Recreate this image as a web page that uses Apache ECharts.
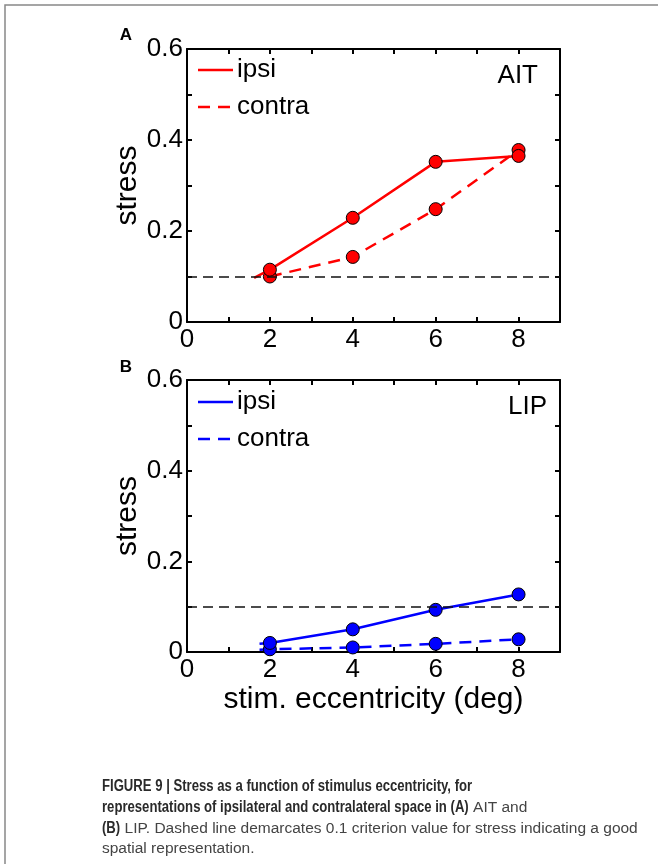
<!DOCTYPE html>
<html>
<head>
<meta charset="utf-8">
<script src="https://cdn.jsdelivr.net/npm/echarts@6/dist/echarts.min.js"></script>
<style>
  html, body { margin: 0; padding: 0; background: #fff; }
  #chart { width: 658px; height: 864px; }
</style>
</head>
<body>
<div id="chart"></div>
<script>
// stimulus eccentricity (deg)
const ecc = [2, 4, 6, 8]
const aitIpsi = [0.115, 0.229, 0.352, 0.365]
const aitContra = [0.100, 0.143, 0.248, 0.378]
const lipIpsi = [0.020, 0.050, 0.093, 0.127]
const lipContra = [0.006, 0.010, 0.018, 0.028]
// unmarked start of each trace, just left of 2 deg
const aitIpsiStart = [1.62, 0.097]
const lipIpsiStart = [1.75, 0.018]
const lipContraStart = [1.75, 0.005]
const criterion = 0.1

const xTicks = [0, 2, 4, 6, 8]
const yTicks = [0, 0.2, 0.4, 0.6]

// caption: pieces of [text, bold] per line
const caption = [
  [['FIGURE 9 | Stress as a function of stimulus eccentricity, for', true]],
  [['representations of ipsilateral and contralateral space in (A)', true], [' AIT and', false]],
  [['(B)', true], [' LIP. Dashed line demarcates 0.1 criterion value for stress indicating a good', false]],
  [['spatial representation.', false]],
]

const FONT = 'Liberation Sans, Arial, Helvetica, sans-serif'
const RED = '#ff0000'
const BLUE = '#0000ff'

function pts(xs, ys, start) {
  const data = xs.map((x, i) => [x, ys[i]])
  if (start) data.unshift({ value: start, symbol: 'none' })
  return data
}

const chart = echarts.init(document.getElementById('chart'))

const grids = [
  { left: 187, top: 49, width: 373, height: 273 },
  { left: 187, top: 380, width: 373, height: 272 },
]

function xAxisFor(gridIndex, top, name) {
  return {
    type: 'value', gridIndex, position: top ? 'top' : 'bottom',
    min: 0, max: 9, interval: 1,
    name: top ? '' : name, nameLocation: 'middle', nameGap: 33,
    nameTextStyle: { fontFamily: FONT, fontSize: 30, color: '#000' },
    axisLine: { show: true, onZero: false, lineStyle: { color: '#000', width: 2 } },
    axisTick: { show: true, inside: true, length: 5, lineStyle: { color: '#000', width: 2 } },
    axisLabel: {
      show: !top, margin: 5, fontFamily: FONT, fontSize: 26, color: '#000',
      formatter: (v) => (xTicks.includes(v) ? String(v) : ''),
    },
    splitLine: { show: false },
  }
}

function yAxisFor(gridIndex, right) {
  return {
    type: 'value', gridIndex, position: right ? 'right' : 'left',
    min: 0, max: 0.6, interval: 0.1,
    name: right ? '' : 'stress', nameLocation: 'middle', nameGap: 44,
    nameMoveOverlap: false,
    nameTextStyle: { fontFamily: FONT, fontSize: 30, color: '#000' },
    axisLine: { show: true, onZero: false, lineStyle: { color: '#000', width: 2 } },
    axisTick: { show: true, inside: true, length: 5, lineStyle: { color: '#000', width: 2 } },
    axisLabel: {
      show: !right, margin: 4, fontFamily: FONT, fontSize: 26, color: '#000',
      formatter: (v) => {
        const r = Math.round(v * 10) / 10
        if (!yTicks.some((t) => Math.abs(t - r) < 1e-6)) return ''
        return r === 0 ? '0' : r.toFixed(1)
      },
    },
    splitLine: { show: false },
  }
}

function lineSeries(axis, data, color, dashed, withCriterion) {
  const s = {
    type: 'line', xAxisIndex: axis, yAxisIndex: axis, data,
    symbol: 'circle', symbolSize: 13, showSymbol: true,
    lineStyle: { color, width: 2.5, type: dashed ? [12, 8] : 'solid' },
    itemStyle: { color, borderColor: '#000', borderWidth: 1 },
    z: dashed ? 3 : 4,
    animation: false,
  }
  if (withCriterion) {
    s.markLine = {
      silent: true, symbol: 'none', label: { show: false },
      lineStyle: { color: '#111', width: 1.5, type: [10, 6] },
      data: [{ yAxis: criterion }],
    }
  }
  return s
}

function legendBlock(x, y, color) {
  return [
    { type: 'line', shape: { x1: x, y1: y, x2: x + 35, y2: y }, style: { stroke: color, lineWidth: 2.5 } },
    { type: 'text', x: x + 39, y: y, style: { text: 'ipsi', font: '26px ' + FONT, fill: '#000', textVerticalAlign: 'middle' } },
    { type: 'line', shape: { x1: x, y1: y + 37, x2: x + 35, y2: y + 37 }, style: { stroke: color, lineWidth: 2.5, lineDash: [12, 8] } },
    { type: 'text', x: x + 39, y: y + 37, style: { text: 'contra', font: '26px ' + FONT, fill: '#000', textVerticalAlign: 'middle' } },
  ]
}

// caption text: condensed bold (horizontally scaled) followed by regular text
const BOLD_FONT = 'bold 16px ' + FONT
const REG_FONT = '15.5px ' + FONT
const BOLD_SCALE = 0.82
const ctx = document.createElement('canvas').getContext('2d')
function textWidth(text, font) {
  ctx.font = font
  return ctx.measureText(text).width
}
const captionGraphics = []
caption.forEach((line, i) => {
  let x = 102
  const y = 787 + i * 20.7
  line.forEach(([text, bold]) => {
    const font = bold ? BOLD_FONT : REG_FONT
    const scale = bold ? BOLD_SCALE : 1
    captionGraphics.push({
      type: 'text', x, y, scaleX: scale,
      style: { text, font, fill: bold ? '#2a2a2a' : '#444', textVerticalAlign: 'middle' },
    })
    x += textWidth(text, font) * scale
  })
})

chart.setOption({
  backgroundColor: '#fff',
  animation: false,
  grid: grids,
  xAxis: [xAxisFor(0, false, ''), xAxisFor(0, true, ''), xAxisFor(1, false, 'stim. eccentricity (deg)'), xAxisFor(1, true, '')],
  yAxis: [yAxisFor(0, false), yAxisFor(0, true), yAxisFor(1, false), yAxisFor(1, true)],
  series: [
    lineSeries(0, pts(ecc, aitContra), RED, true, true),
    lineSeries(0, pts(ecc, aitIpsi, aitIpsiStart), RED, false, false),
    lineSeries(2, pts(ecc, lipContra, lipContraStart), BLUE, true, true),
    lineSeries(2, pts(ecc, lipIpsi, lipIpsiStart), BLUE, false, false),
  ],
  graphic: [
    // figure frame
    { type: 'polyline', shape: { points: [[5, 864], [5, 5], [658, 5]] }, style: { stroke: '#888', lineWidth: 1.5, fill: null } },
    { type: 'text', x: 126, y: 35, style: { text: 'A', font: 'bold 17px ' + FONT, fill: '#000', textAlign: 'center', textVerticalAlign: 'middle' } },
    { type: 'text', x: 126, y: 367, style: { text: 'B', font: 'bold 17px ' + FONT, fill: '#000', textAlign: 'center', textVerticalAlign: 'middle' } },
    { type: 'text', x: 538, y: 76, style: { text: 'AIT', font: '26px ' + FONT, fill: '#000', textAlign: 'right', textVerticalAlign: 'middle' } },
    { type: 'text', x: 547, y: 407, style: { text: 'LIP', font: '26px ' + FONT, fill: '#000', textAlign: 'right', textVerticalAlign: 'middle' } },
    ...legendBlock(198, 70, RED),
    ...legendBlock(198, 402, BLUE),
    ...captionGraphics,
  ],
})
</script>
</body>
</html>
